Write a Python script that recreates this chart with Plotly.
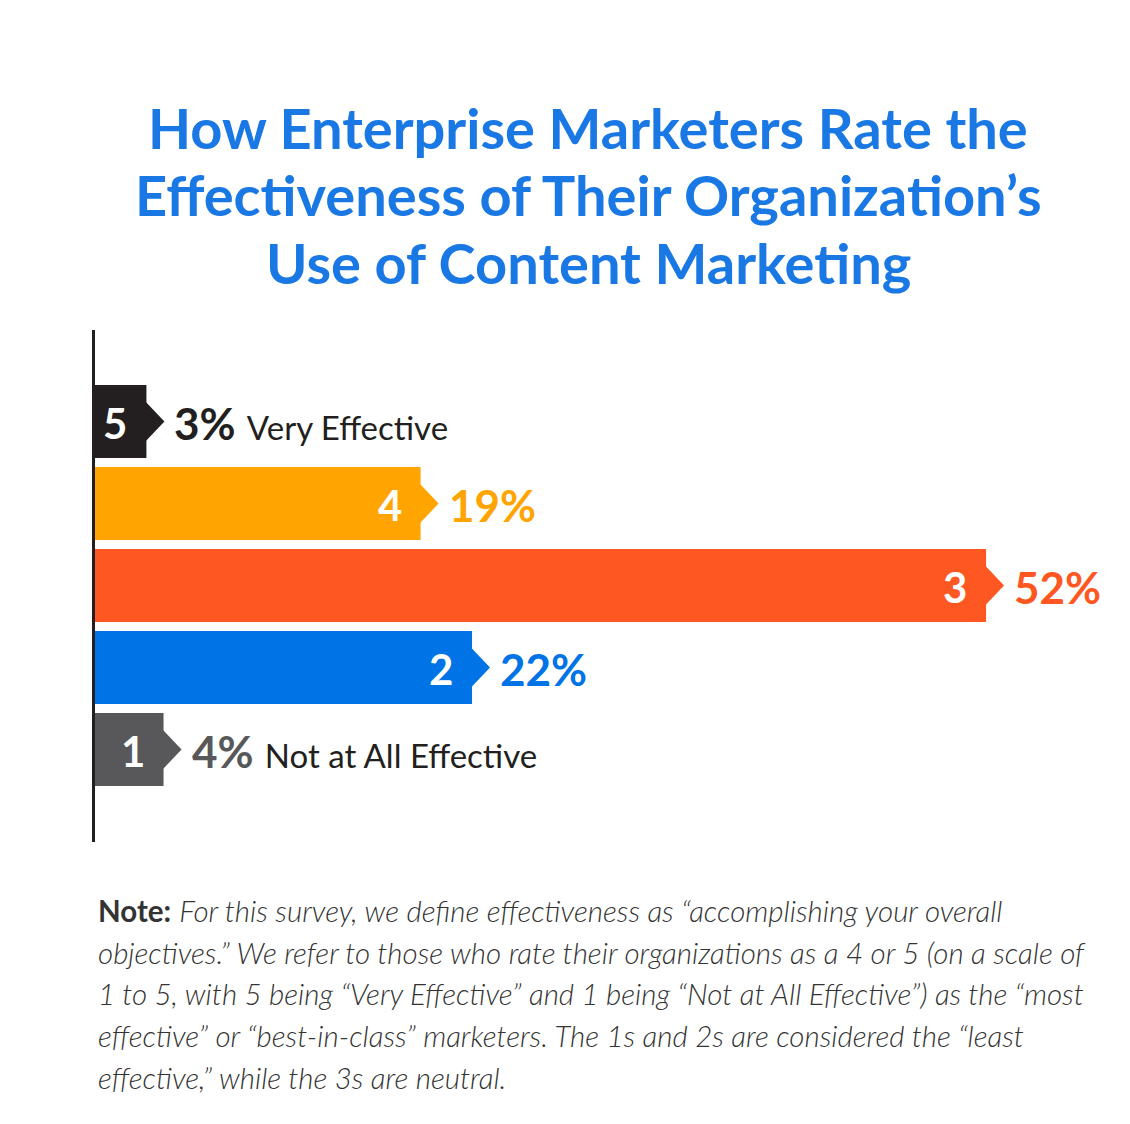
import plotly.graph_objects as go

ratings = [5, 4, 3, 2, 1]
percents = [3, 19, 52, 22, 4]
colors = ["#231f20", "#ffa400", "#ff5722", "#0073e6", "#58585a"]
label_colors = ["#231f20", "#ffa400", "#ff5722", "#0073e6", "#58585a"]
descriptions = ["Very Effective", "", "", "", "Not at All Effective"]

title_lines = [
    "How Enterprise Marketers Rate the",
    "Effectiveness of Their Organization’s",
    "Use of Content Marketing",
]
note_lines = [
    "<b>Note:</b> <i>For this survey, we define effectiveness as “accomplishing your overall</i>",
    "<i>objectives.” We refer to those who rate their organizations as a 4 or 5 (on a scale of</i>",
    "<i>1 to 5, with 5 being “Very Effective” and 1 being “Not at All Effective”) as the “most</i>",
    "<i>effective” or “best-in-class” marketers. The 1s and 2s are considered the “least</i>",
    "<i>effective,” while the 3s are neutral.</i>",
]

W, H = 1122, 1116          # page has an 8px body margin
FONT = "Lato"

# plot area in screen pixels
PL, PR, PT, PB = 95, 1130, 330, 842


def px(xs):
    return (xs - PL) / (PR - PL)


def py(ys):
    return (PB - ys) / (PB - PT)


fig = go.Figure()
fig.add_trace(go.Bar(
    x=percents, y=ratings, orientation="h",
    marker=dict(color=colors, line=dict(width=0)),
    hoverinfo="skip", showlegend=False,
))

annotations = []
shapes = []
for r, p, c, lc, d in zip(ratings, percents, colors, label_colors, descriptions):
    shapes.append(dict(
        type="path", xref="x", yref="y",
        xsizemode="pixel", ysizemode="pixel",
        xanchor=p, yanchor=r,
        path="M-1,20 L18,0 L-1,-20 Z",
        fillcolor=c, line=dict(width=0), layer="above",
    ))
    annotations.append(dict(
        x=p, y=r, xref="x", yref="y", xanchor="right", yanchor="middle",
        xshift=-17, yshift=-1, showarrow=False,
        text=f"<b>{r}</b>",
        font=dict(family=FONT, size=42, color="white"),
    ))
    txt = f"<b>{p}%</b>"
    if d:
        txt += f" <span style='font-size:33px;font-weight:normal;color:#231f20'>{d}</span>"
    annotations.append(dict(
        x=p, y=r, xref="x", yref="y", xanchor="left", yanchor="middle",
        xshift=26, yshift=-1, showarrow=False,
        text=txt,
        font=dict(family=FONT, size=44, color=lc),
    ))

title_y = [127, 194, 262]
for t, yy in zip(title_lines, title_y):
    annotations.append(dict(
        x=px(588), y=py(yy), xref="paper", yref="paper",
        xanchor="center", yanchor="middle", showarrow=False,
        text=t,
        font=dict(family=FONT, size=56, color="#1a78e4", weight=700),
    ))

note_y = [910, 952, 993, 1035, 1077]
for t, yy in zip(note_lines, note_y):
    annotations.append(dict(
        x=px(96), y=py(yy), xref="paper", yref="paper",
        xanchor="left", yanchor="middle", showarrow=False,
        text=t,
        font=dict(family=FONT, size=29.5, color="#333333", weight=300),
    ))

fig.update_layout(
    width=W, height=H,
    margin=dict(l=PL - 8, r=0, t=PT - 8, b=(H + 8) - PB, pad=0),
    paper_bgcolor="white", plot_bgcolor="white",
    bargap=0.11,
    xaxis=dict(range=[0, 60.4], showgrid=False, zeroline=False,
               showticklabels=False, showline=False, fixedrange=True),
    yaxis=dict(range=[-0.128, 6.116], showgrid=False, zeroline=False,
               showticklabels=False, showline=True, linecolor="#231f20",
               linewidth=3, fixedrange=True),
    annotations=annotations,
    shapes=shapes,
)

fig.write_html("out.html")
